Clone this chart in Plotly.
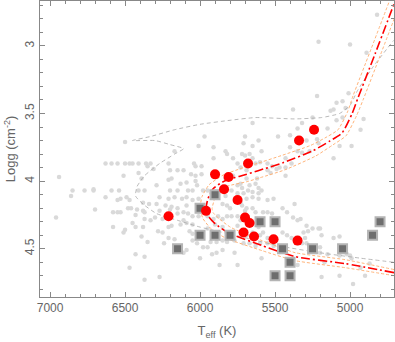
import plotly.graph_objects as go

# field stars (Teff, logg)
field_a = [(6500,3.71),(6940,3.97),(6630,3.87),(6590,3.87),(6550,3.87),(6500,3.87),(6470,3.87),(6450,3.87),
           (6410,3.87),(6360,3.87),(6350,3.89),(6330,3.87),(6410,3.94),(6510,3.96),(6390,3.98),(6310,3.91),
           (6850,4.07),(6770,4.07),(6710,4.07),(6710,4.06),(6590,4.07),(6540,4.07),(6410,4.07),(6370,4.07),
           (6860,4.11),(6630,4.12),(6550,4.14),(6530,4.13),(6490,4.12),(6470,4.14),(6380,4.16),(6340,4.17),
           (6700,4.21),(6960,4.27),(6580,4.23),(6550,4.23),(6530,4.23),(6480,4.20),(6460,4.20),(6420,4.21),
           (6380,4.22),(6430,4.25),(6370,4.23),(6450,4.31),(6370,4.28),(6330,4.29),(6580,4.34),(6500,4.36),
           (6510,4.38),(6430,4.34),(6380,4.34),(6390,4.41),(6350,4.45),(6430,4.54),(6370,4.56),(6470,4.64),
           (6370,4.73)]
field_b = [(5970,3.67),(6010,3.74),(5910,3.75),(5830,3.78),(5820,3.80),(6170,3.78),(5910,3.83),(6040,3.87),
           (6030,3.89),(5990,3.89),(5780,3.83),(5750,3.87),(6200,3.92),(6150,3.92),(6110,3.92),(6060,3.95),
           (6030,3.96),(5990,3.95),(6210,3.99),(6190,3.98),(5830,3.98),(5780,3.96),(6130,4.02),(6090,4.01),
           (6030,4.00),(6200,4.07),(6150,4.07),(6080,4.07),(6050,4.07),(5980,4.07),(5950,4.07),(5750,4.03),
           (6290,4.03),(6020,4.03),(6270,4.12),(6210,4.13),(6170,4.12),(6120,4.13),(6090,4.12),(6050,4.14),
           (6010,4.13),(5830,4.11),(5790,4.07),(5750,4.09),(6290,4.17),(6230,4.18),(6190,4.19),(6150,4.20),
           (6090,4.18),(5850,4.17),(5820,4.18),(5800,4.20),(6270,4.22),(6200,4.21),(6110,4.23),(6080,4.24),
           (6050,4.26),(6150,4.24),(6300,4.27),(6250,4.28),(6010,4.26),(5950,4.26),(5910,4.28),(5880,4.26),
           (5850,4.28),(5820,4.26),(5790,4.26),(5750,4.26),(6210,4.34),(6190,4.33),(6130,4.32),(6090,4.31),
           (6050,4.32),(6280,4.37),(6250,4.38),(6070,4.37),(6050,4.39),(5950,4.35),(5900,4.32),(5850,4.34),
           (5750,4.33),(6210,4.42),(6170,4.43),(6050,4.44),(6020,4.46),(5930,4.45),(5890,4.45),(5850,4.44),
           (5820,4.45),(5770,4.44),(5980,4.49),(5950,4.49),(6090,4.51),(6110,4.53),(5920,4.54),(5890,4.53),
           (5850,4.51),(5770,4.53),(6000,4.57),(5870,4.62),(5750,4.62),(6270,4.71),(6240,4.46),(6110,4.29),
           (6010,4.38),(6210,3.87)]
field_c = [(5700,3.67),(5710,3.72),(5480,3.67),(5400,3.66),(5650,3.74),(5590,3.78),(5400,3.75),(5350,3.78),
           (5320,3.79),(5290,3.70),(5220,3.69),(5210,3.72),(5720,3.80),(5700,3.81),(5670,3.80),(5650,3.83),
           (5630,3.87),(5600,3.86),(5550,3.87),(5520,3.89),(5390,3.87),(5490,3.91),(5470,3.90),(5430,3.90),
           (5730,3.90),(5690,3.92),(5550,3.92),(5530,3.94),(5430,3.96),(5690,3.98),(5620,3.98),(5730,4.02),
           (5720,4.05),(5670,4.03),(5630,4.02),(5610,4.05),(5710,4.09),(5680,4.07),(5650,4.08),(5610,4.09),
           (5590,4.07),(5690,4.13),(5650,4.12),(5610,4.13),(5550,4.14),(5510,4.13),(5370,4.17),(5730,4.16),
           (5720,4.18),(5610,3.70),(5430,3.83),(5270,3.78),
           (5690,4.20),(5650,4.20),(5580,4.23),(5550,4.23),(5520,4.24),(5450,4.20),(5420,4.23),(5380,4.27),
           (5350,4.29),(5330,4.28),(5290,4.33),(5280,4.37),(5250,4.35),(5210,4.35),(5710,4.37),(5690,4.40),
           (5650,4.38),(5600,4.40),(5580,4.38),(5550,4.42),(5450,4.38),(5420,4.40),(5390,4.42),(5310,4.38),
           (5300,4.42),(5710,4.46),(5670,4.46),(5630,4.48),(5600,4.46),(5550,4.46),(5510,4.48),(5350,4.46),
           (5320,4.46),(5290,4.46),(5230,4.48),(5590,4.57),(5350,4.62),(5700,4.22),(5630,4.23),(5730,4.29),
           (5650,4.31),(5610,4.34)]
field_d = [(5150,3.61),(4930,3.62),(5070,3.74),(4990,3.74),(5110,3.83),(5200,4.35),(5190,4.40),(5110,4.42),
           (5070,4.41),(5200,4.49),(5200,4.53),(5150,4.54),(5070,4.55),(5170,4.60),(5020,4.54),(5000,4.55),
           (4990,4.57),(4870,4.61),(5190,4.71),(5070,4.70),(4980,4.76),(4900,4.70),(4930,4.64)]
field_e = [(4820,2.77),(5210,2.97),(5000,2.99),(4890,3.05),(5220,3.37),(5010,3.35),(5050,3.41),(5090,3.42),
           (5380,3.47),(5130,3.48),(5110,3.47),(5030,3.46),(5250,3.53),(5050,3.53),(5090,3.55),(5650,3.57),
           (5320,3.57),(4910,3.54),(5350,3.61)]

# red circles
teff_red = [6210, 5900, 5810, 5840, 5750, 5960, 5700, 5670, 5710, 5640, 5510, 5350, 5680, 5340, 5240]
logg_red = [4.26, 3.95, 3.97, 4.06, 4.14, 4.22, 4.27, 4.31, 4.38, 4.41, 4.43, 4.44, 3.87, 3.70, 3.62]

# grey squares
teff_sq = [6150, 6000, 5900, 6000, 5900, 5800, 5600, 5500, 5450, 5250, 5050, 5400, 5500, 5400, 4850, 4800]
logg_sq = [4.5, 4.2, 4.1, 4.4, 4.4, 4.4, 4.3, 4.3, 4.5, 4.5, 4.5, 4.6, 4.7, 4.7, 4.4, 4.3]

# grey dashed track
teff_trk = [4710, 4930, 5200, 5470, 5730, 6000, 6150, 6290, 6380, 6430, 6420, 6370, 6270, 6170, 6110,
            6200, 6300, 6450, 6330, 6170, 6000, 5800, 5630, 5370, 5190, 5070, 5000, 4950, 4850, 4710]
logg_trk = [4.60, 4.57, 4.53, 4.48, 4.41, 4.34, 4.29, 4.24, 4.17, 4.11, 4.04, 3.96, 3.87, 3.80, 3.76,
            3.73, 3.70, 3.70, 3.67, 3.62, 3.58, 3.55, 3.53, 3.54, 3.53, 3.50, 3.44, 3.33, 3.16, 2.96]

# red dash-dot fit and its orange envelope
teff_fit = [4707, 5033, 5367, 5587, 5813, 5900, 5947, 5960, 5947, 5913, 5833, 5700, 5613, 5447, 5247,
            5133, 5053, 4987, 4947, 4833, 4707]
logg_fit = [4.677, 4.610, 4.558, 4.477, 4.381, 4.315, 4.256, 4.204, 4.130, 4.056, 3.997, 3.953, 3.923,
            3.864, 3.775, 3.702, 3.643, 3.502, 3.384, 3.059, 2.690]
teff_out = [4707, 5033, 5367, 5587, 5830, 5927, 5980, 6000, 5987, 5940, 5847, 5713, 5627, 5460, 5263,
            5153, 5080, 5017, 4980, 4867, 4740]
logg_out = [4.699, 4.640, 4.588, 4.514, 4.421, 4.352, 4.278, 4.204, 4.115, 4.027, 3.956, 3.901, 3.872,
            3.812, 3.736, 3.672, 3.620, 3.488, 3.369, 3.044, 2.675]
teff_in = [4707, 5033, 5367, 5587, 5797, 5873, 5913, 5920, 5907, 5887, 5820, 5687, 5600, 5433, 5230,
           5113, 5027, 4957, 4913, 4800, 4673]
logg_in = [4.654, 4.581, 4.529, 4.440, 4.341, 4.278, 4.233, 4.204, 4.145, 4.086, 4.038, 4.004, 3.975,
           3.916, 3.815, 3.731, 3.665, 3.517, 3.399, 3.074, 2.705]

field = field_a + field_b + field_c + field_d + field_e

fig = go.Figure()

fig.add_trace(go.Scatter(x=[p[0] for p in field], y=[p[1] for p in field], mode='markers',
                         marker={'size': 4.5, 'color': '#d9d9d9'}, hoverinfo='skip'))
fig.add_trace(go.Scatter(x=teff_trk, y=logg_trk, mode='lines',
                         line={'color': '#a8a8a8', 'width': 0.8, 'dash': '4px,3px', 'shape': 'spline', 'smoothing': 0.5}))
for tx, ty in [(teff_out, logg_out), (teff_in, logg_in)]:
    fig.add_trace(go.Scatter(x=tx, y=ty, mode='lines',
                             line={'color': '#ffb47a', 'width': 1, 'dash': '3px,2px', 'shape': 'spline', 'smoothing': 0.5}))
fig.add_trace(go.Scatter(x=teff_fit, y=logg_fit, mode='lines',
                         line={'color': '#ff0000', 'width': 1.6, 'dash': '9px,3px,2px,3px', 'shape': 'spline', 'smoothing': 0.6}))
fig.add_trace(go.Scatter(x=teff_sq, y=logg_sq, mode='markers',
                         marker={'symbol': 'square', 'size': 9, 'color': '#6e6e6e',
                                 'line': {'color': '#b4b4b4', 'width': 2}}))
fig.add_trace(go.Scatter(x=teff_red, y=logg_red, mode='markers',
                         marker={'size': 10, 'color': '#ff0000'}))

axis_style = dict(showline=True, linecolor='#888888', linewidth=1, mirror='ticks', showgrid=False,
                  zeroline=False, ticks='inside', ticklen=5, tickcolor='#888888', automargin=False,
                  tickfont={'family': 'Liberation Sans, Arial', 'size': 12, 'color': '#666666'})

fig.update_xaxes(range=[7067, 4707], dtick=500, tick0=5000,
                 minor={'dtick': 100, 'ticks': 'inside', 'ticklen': 3, 'tickcolor': '#888888'},
                 title={'text': 'T<sub>eff</sub> (K)', 'standoff': 11,
                        'font': {'family': 'Liberation Sans, Arial', 'size': 13, 'color': '#666666'}},
                 **axis_style)
fig.update_yaxes(range=[4.857, 2.668], dtick=0.5, tick0=3, tickangle=-90,
                 minor={'dtick': 0.1, 'ticks': 'inside', 'ticklen': 3, 'tickcolor': '#888888'},
                 title={'text': 'Logg (cm<sup>-2</sup>)', 'standoff': 4,
                        'font': {'family': 'Liberation Sans, Arial', 'size': 13, 'color': '#666666'}},
                 **axis_style)

fig.update_layout(width=395, height=342, margin={'l': 40, 'r': 1, 't': 1, 'b': 45},
                  paper_bgcolor='white', plot_bgcolor='white', showlegend=False)

# the page's default body margin would shift the figure by 8px
fig.write_html("out.html", config={'displayModeBar': False},
               post_script="document.body.style.margin='0';")
